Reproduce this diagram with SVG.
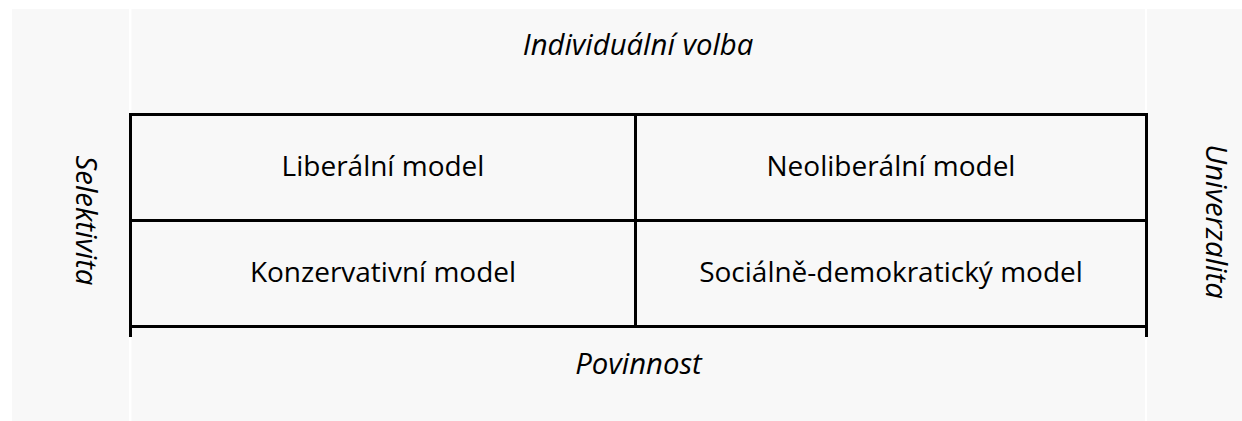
<svg xmlns="http://www.w3.org/2000/svg" width="1242" height="421" viewBox="0 0 1242 421">
  <style>
    .panel { fill: #f8f8f8; }
    .grid line { stroke: #000; stroke-width: 3; }
    .cell { font-family: "Open Sans", "Liberation Sans", sans-serif; font-size: 28px; fill: #000; text-anchor: middle; }
    .axis { font-family: "Open Sans", "Liberation Sans", sans-serif; font-size: 29.3px; font-style: italic; fill: #000; text-anchor: middle; }
  </style>
  <rect width="1242" height="421" fill="#ffffff"/>
  <g id="background">
    <rect class="panel" x="12" y="9" width="117" height="412"/>
    <rect class="panel" x="131.5" y="9" width="1013.5" height="412"/>
    <rect class="panel" x="1147" y="9" width="95" height="412"/>
  </g>
  <g id="connectors" class="grid">
    <line x1="129" y1="114.5" x2="1148" y2="114.5"/>
    <line x1="129" y1="220.5" x2="1148" y2="220.5"/>
    <line x1="129" y1="326.5" x2="1148" y2="326.5"/>
    <line x1="130.5" y1="113" x2="130.5" y2="337"/>
    <line x1="635.5" y1="113" x2="635.5" y2="328"/>
    <line x1="1146.5" y1="113" x2="1146.5" y2="337"/>
  </g>
  <g id="axis-individualni-volba"><text class="axis" x="638" y="55">Individuální volba</text></g>
  <g id="axis-povinnost"><text class="axis" x="638.5" y="374">Povinnost</text></g>
  <g id="axis-selektivita"><text class="axis" transform="translate(76 220.5) rotate(90)" x="0" y="0">Selektivita</text></g>
  <g id="axis-univerzalita"><text class="axis" transform="translate(1206 221.5) rotate(90)" x="0" y="0">Univerzalita</text></g>
  <g id="cell-liberalni"><text class="cell" x="383" y="175.5">Liberální model</text></g>
  <g id="cell-neoliberalni"><text class="cell" x="891" y="175.5">Neoliberální model</text></g>
  <g id="cell-konzervativni"><text class="cell" x="383" y="282">Konzervativní model</text></g>
  <g id="cell-socialne-demokraticky"><text class="cell" x="891" y="282">Sociálně-demokratický model</text></g>
</svg>
